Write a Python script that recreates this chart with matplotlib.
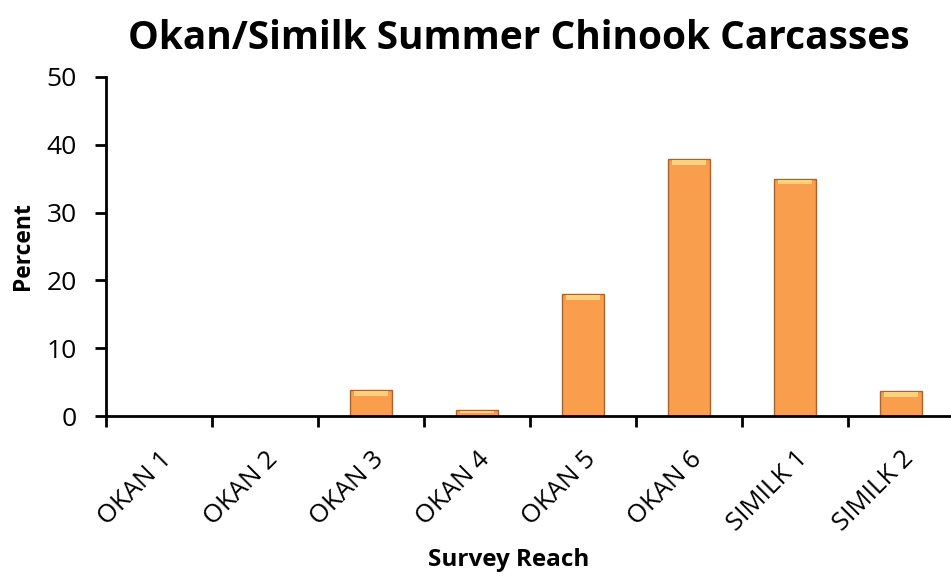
import numpy as np
import matplotlib.pyplot as plt

reaches = ['OKAN 1', 'OKAN 2', 'OKAN 3', 'OKAN 4', 'OKAN 5', 'OKAN 6', 'SIMILK 1', 'SIMILK 2']
percent = [0, 0, 3.8, 0.9, 18.0, 37.9, 35.0, 3.7]

plt.rcParams['font.family'] = ['Open Sans', 'DejaVu Sans']

fig = plt.figure(figsize=(9.51, 5.77), dpi=100)
ax = fig.add_axes([106 / 951, 1 - 416 / 577, 848 / 951, 339 / 577])

x = np.arange(len(reaches))
vals = np.array(percent)
ax.bar(x, vals, width=0.39, color='#F99E4C', edgecolor='#A8642C', linewidth=1.0, zorder=2)
# light band at the top of each bar (bevel look)
hl = np.minimum(vals * 0.3, 0.7)
ax.bar(x, hl, bottom=vals - hl - 0.15 * (vals > 0), width=0.33, color='#FDD27E',
       linewidth=0, zorder=3)

ax.set_xlim(-0.5, len(reaches) - 0.5)
ax.set_ylim(0, 50)
ax.set_yticks([0, 10, 20, 30, 40, 50])
ax.tick_params(axis='y', labelsize=19, direction='out', length=8, width=2, pad=13)

# excel style: ticks between categories, labels at centers
ax.set_xticks(np.arange(len(reaches) + 1) - 0.5)
ax.set_xticklabels([])
ax.set_xticks(x, minor=True)
ax.set_xticklabels(reaches, minor=True, rotation=45, ha='right', rotation_mode='anchor', fontsize=18.5)
ax.tick_params(axis='x', which='major', direction='out', length=8, width=2)
ax.tick_params(axis='x', which='minor', length=0, pad=22)

for s in ['top', 'right']:
    ax.spines[s].set_visible(False)
ax.spines['left'].set_linewidth(2)
ax.spines['bottom'].set_linewidth(2)

ax.set_title('Okan/Similk Summer Chinook Carcasses', fontsize=28, fontweight='bold',
             pad=20, x=(519 - 106) / 848)
ax.set_ylabel('Percent', fontsize=16.5, fontweight='bold', labelpad=8)
ax.set_xlabel('Survey Reach', fontsize=17.5, fontweight='bold')
ax.xaxis.set_label_coords((509 - 106) / 848, -(548 - 416) / 339)

fig.savefig('out.png', dpi=100)
